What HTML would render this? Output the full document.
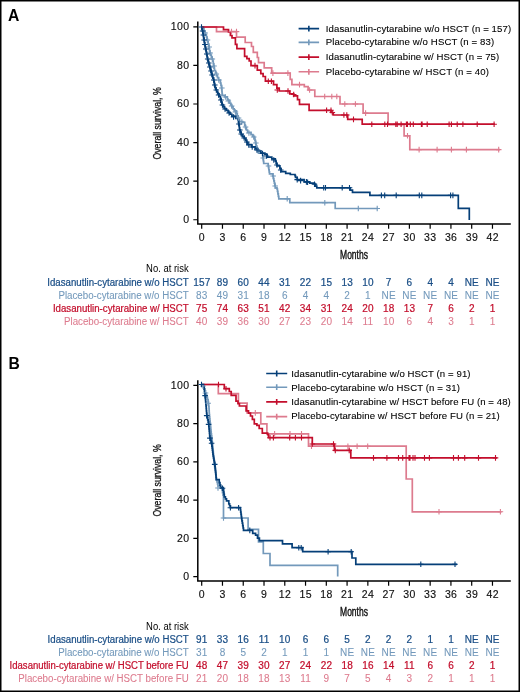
<!DOCTYPE html>
<html><head><meta charset="utf-8"><style>
html,body{margin:0;padding:0;background:#fff;}
.wrap{position:relative;width:520px;height:692px;overflow:hidden;background:#fff;}
svg{position:absolute;left:0;top:0;will-change:transform;}
text{font-family:"Liberation Sans",sans-serif;}
.t{font-size:10.5px;fill:#111;letter-spacing:0.4px;stroke:#111;stroke-width:0.15px;}
.n{letter-spacing:0.2px;}
.lab{font-size:12px;fill:#111;stroke:#111;stroke-width:0.4px;}
.lab2{font-size:10.4px;fill:#111;stroke:#111;stroke-width:0.3px;}
.pl{font-size:15.7px;font-weight:bold;fill:#000;}
.lg{font-size:9.6px;fill:#000;stroke:#000;stroke-width:0.1px;}
.rt{font-size:10px;stroke-width:0.08px;}
.rb{font-size:10px;stroke-width:0.22px;}
</style></head><body><div class="wrap">
<svg width="520" height="692" viewBox="0 0 520 692">
<rect x="0.75" y="0.75" width="518.5" height="690.5" fill="none" stroke="#000" stroke-width="1.5"/>
<path d="M197.8 21.5V224.7M197.10000000000002 224.0H510.8" stroke="#000" stroke-width="1.5" fill="none"/><path d="M193.3 219.75H197.8M193.3 181.17H197.8M193.3 142.59H197.8M193.3 104.01H197.8M193.3 65.43H197.8M193.3 26.85H197.8M201.7 224.0V228.8M222.47 224.0V228.8M243.24 224.0V228.8M264.01 224.0V228.8M284.78 224.0V228.8M305.54 224.0V228.8M326.31 224.0V228.8M347.08 224.0V228.8M367.85 224.0V228.8M388.62 224.0V228.8M409.39 224.0V228.8M430.16 224.0V228.8M450.93 224.0V228.8M471.7 224.0V228.8M492.47 224.0V228.8" stroke="#000" stroke-width="1.2" fill="none"/><text x="189.4" y="223.15" text-anchor="end" class="t">0</text><text x="189.4" y="184.57" text-anchor="end" class="t">20</text><text x="189.4" y="145.99" text-anchor="end" class="t">40</text><text x="189.4" y="107.41" text-anchor="end" class="t">60</text><text x="189.4" y="68.83" text-anchor="end" class="t">80</text><text x="189.4" y="30.25" text-anchor="end" class="t">100</text><text x="201.9" y="240.6" text-anchor="middle" class="t">0</text><text x="222.67" y="240.6" text-anchor="middle" class="t">3</text><text x="243.44" y="240.6" text-anchor="middle" class="t">6</text><text x="264.21" y="240.6" text-anchor="middle" class="t">9</text><text x="284.98" y="240.6" text-anchor="middle" class="t">12</text><text x="305.74" y="240.6" text-anchor="middle" class="t">15</text><text x="326.51" y="240.6" text-anchor="middle" class="t">18</text><text x="347.28" y="240.6" text-anchor="middle" class="t">21</text><text x="368.05" y="240.6" text-anchor="middle" class="t">24</text><text x="388.82" y="240.6" text-anchor="middle" class="t">27</text><text x="409.59" y="240.6" text-anchor="middle" class="t">30</text><text x="430.36" y="240.6" text-anchor="middle" class="t">33</text><text x="451.13" y="240.6" text-anchor="middle" class="t">36</text><text x="471.9" y="240.6" text-anchor="middle" class="t">39</text><text x="492.67" y="240.6" text-anchor="middle" class="t">42</text><text x="0" y="0" transform="translate(354,258.6) scale(0.71,1)" text-anchor="middle" class="lab">Months</text><text x="0" y="0" transform="translate(160.79999999999998,123.4) rotate(-90) scale(0.84,1)" text-anchor="middle" class="lab2">Overall survival, %</text><path d="M197.8 380.3V581.6M197.10000000000002 580.9H510.8" stroke="#000" stroke-width="1.5" fill="none"/><path d="M193.3 576.6H197.8M193.3 538.34H197.8M193.3 500.08H197.8M193.3 461.82H197.8M193.3 423.56H197.8M193.3 385.3H197.8M201.7 580.9V585.7M222.47 580.9V585.7M243.24 580.9V585.7M264.01 580.9V585.7M284.78 580.9V585.7M305.54 580.9V585.7M326.31 580.9V585.7M347.08 580.9V585.7M367.85 580.9V585.7M388.62 580.9V585.7M409.39 580.9V585.7M430.16 580.9V585.7M450.93 580.9V585.7M471.7 580.9V585.7M492.47 580.9V585.7" stroke="#000" stroke-width="1.2" fill="none"/><text x="189.4" y="580" text-anchor="end" class="t">0</text><text x="189.4" y="541.74" text-anchor="end" class="t">20</text><text x="189.4" y="503.48" text-anchor="end" class="t">40</text><text x="189.4" y="465.22" text-anchor="end" class="t">60</text><text x="189.4" y="426.96" text-anchor="end" class="t">80</text><text x="189.4" y="388.7" text-anchor="end" class="t">100</text><text x="201.9" y="597.6" text-anchor="middle" class="t">0</text><text x="222.67" y="597.6" text-anchor="middle" class="t">3</text><text x="243.44" y="597.6" text-anchor="middle" class="t">6</text><text x="264.21" y="597.6" text-anchor="middle" class="t">9</text><text x="284.98" y="597.6" text-anchor="middle" class="t">12</text><text x="305.74" y="597.6" text-anchor="middle" class="t">15</text><text x="326.51" y="597.6" text-anchor="middle" class="t">18</text><text x="347.28" y="597.6" text-anchor="middle" class="t">21</text><text x="368.05" y="597.6" text-anchor="middle" class="t">24</text><text x="388.82" y="597.6" text-anchor="middle" class="t">27</text><text x="409.59" y="597.6" text-anchor="middle" class="t">30</text><text x="430.36" y="597.6" text-anchor="middle" class="t">33</text><text x="451.13" y="597.6" text-anchor="middle" class="t">36</text><text x="471.9" y="597.6" text-anchor="middle" class="t">39</text><text x="492.67" y="597.6" text-anchor="middle" class="t">42</text><text x="0" y="0" transform="translate(354,616.2) scale(0.71,1)" text-anchor="middle" class="lab">Months</text><text x="0" y="0" transform="translate(161.2,480.4) rotate(-90) scale(0.84,1)" text-anchor="middle" class="lab2">Overall survival, %</text><text x="8" y="21" class="pl">A</text><text x="8.6" y="368.6" class="pl">B</text><path d="M298.6 28.6H319.1M308.85 25.7V31.5" stroke="#053f78" stroke-width="1.6" fill="none"/><text x="325.8" y="32.0" class="lg" textLength="185.3" lengthAdjust="spacing">Idasanutlin-cytarabine w/o HSCT (n = 157)</text><path d="M298.6 42.4H319.1M308.85 39.5V45.3" stroke="#7399bb" stroke-width="1.6" fill="none"/><text x="325.8" y="45.4" class="lg" textLength="168.4" lengthAdjust="spacing">Placebo-cytarabine w/o HSCT (n = 83)</text><path d="M298.6 57.1H319.1M308.85 54.2V60" stroke="#c30e2c" stroke-width="1.6" fill="none"/><text x="325.8" y="59.9" class="lg" textLength="173.4" lengthAdjust="spacing">Idasanutlin-cytarabine w/ HSCT (n = 75)</text><path d="M298.6 71.8H319.1M308.85 68.9V74.7" stroke="#dd7b8e" stroke-width="1.6" fill="none"/><text x="325.8" y="74.7" class="lg" textLength="163.1" lengthAdjust="spacing">Placebo-cytarabine w/ HSCT (n = 40)</text><path d="M266.2 373.5H287.2M276.7 370.6V376.4" stroke="#053f78" stroke-width="1.6" fill="none"/><text x="291.3" y="376.8" class="lg" textLength="179.2" lengthAdjust="spacing">Idasanutlin-cytarabine w/o HSCT (n = 91)</text><path d="M266.2 387.2H287.2M276.7 384.3V390.1" stroke="#7399bb" stroke-width="1.6" fill="none"/><text x="291.3" y="390.5" class="lg" textLength="168.7" lengthAdjust="spacing">Placebo-cytarabine w/o HSCT (n = 31)</text><path d="M266.2 401.9H287.2M276.7 399V404.8" stroke="#c30e2c" stroke-width="1.6" fill="none"/><text x="291.3" y="404.9" class="lg" textLength="219.5" lengthAdjust="spacing">Idasanutlin-cytarabine w/ HSCT before FU (n = 48)</text><path d="M266.2 416.6H287.2M276.7 413.7V419.5" stroke="#dd7b8e" stroke-width="1.6" fill="none"/><text x="291.3" y="419.0" class="lg" textLength="208.4" lengthAdjust="spacing">Placebo-cytarabine w/ HSCT before FU (n = 21)</text><text x="188.7" y="272.3" text-anchor="end" class="rt" fill="#000" style="font-size:10px" textLength="42.6" lengthAdjust="spacingAndGlyphs">No. at risk</text><text x="47.3" y="285.5" class="rb" fill="#1a4e86" stroke="#1a4e86" textLength="141.4" lengthAdjust="spacingAndGlyphs">Idasanutlin-cytarabine w/o HSCT</text><text x="201.8" y="285.5" text-anchor="middle" class="rb n" fill="#1a4e86" stroke="#1a4e86">157</text><text x="222.57" y="285.5" text-anchor="middle" class="rb n" fill="#1a4e86" stroke="#1a4e86">89</text><text x="243.34" y="285.5" text-anchor="middle" class="rb n" fill="#1a4e86" stroke="#1a4e86">60</text><text x="264.11" y="285.5" text-anchor="middle" class="rb n" fill="#1a4e86" stroke="#1a4e86">44</text><text x="284.88" y="285.5" text-anchor="middle" class="rb n" fill="#1a4e86" stroke="#1a4e86">31</text><text x="305.64" y="285.5" text-anchor="middle" class="rb n" fill="#1a4e86" stroke="#1a4e86">22</text><text x="326.41" y="285.5" text-anchor="middle" class="rb n" fill="#1a4e86" stroke="#1a4e86">15</text><text x="347.18" y="285.5" text-anchor="middle" class="rb n" fill="#1a4e86" stroke="#1a4e86">13</text><text x="367.95" y="285.5" text-anchor="middle" class="rb n" fill="#1a4e86" stroke="#1a4e86">10</text><text x="388.72" y="285.5" text-anchor="middle" class="rb n" fill="#1a4e86" stroke="#1a4e86">7</text><text x="409.49" y="285.5" text-anchor="middle" class="rb n" fill="#1a4e86" stroke="#1a4e86">6</text><text x="430.26" y="285.5" text-anchor="middle" class="rb n" fill="#1a4e86" stroke="#1a4e86">4</text><text x="451.03" y="285.5" text-anchor="middle" class="rb n" fill="#1a4e86" stroke="#1a4e86">4</text><text x="471.8" y="285.5" text-anchor="middle" class="rb n" fill="#1a4e86" stroke="#1a4e86">NE</text><text x="492.57" y="285.5" text-anchor="middle" class="rb n" fill="#1a4e86" stroke="#1a4e86">NE</text><text x="58.4" y="298.7" class="rt" fill="#7399bb" stroke="#7399bb" textLength="130.3" lengthAdjust="spacingAndGlyphs">Placebo-cytarabine w/o HSCT</text><text x="201.8" y="298.7" text-anchor="middle" class="rt n" fill="#7399bb" stroke="#7399bb">83</text><text x="222.57" y="298.7" text-anchor="middle" class="rt n" fill="#7399bb" stroke="#7399bb">49</text><text x="243.34" y="298.7" text-anchor="middle" class="rt n" fill="#7399bb" stroke="#7399bb">31</text><text x="264.11" y="298.7" text-anchor="middle" class="rt n" fill="#7399bb" stroke="#7399bb">18</text><text x="284.88" y="298.7" text-anchor="middle" class="rt n" fill="#7399bb" stroke="#7399bb">6</text><text x="305.64" y="298.7" text-anchor="middle" class="rt n" fill="#7399bb" stroke="#7399bb">4</text><text x="326.41" y="298.7" text-anchor="middle" class="rt n" fill="#7399bb" stroke="#7399bb">4</text><text x="347.18" y="298.7" text-anchor="middle" class="rt n" fill="#7399bb" stroke="#7399bb">2</text><text x="367.95" y="298.7" text-anchor="middle" class="rt n" fill="#7399bb" stroke="#7399bb">1</text><text x="388.72" y="298.7" text-anchor="middle" class="rt n" fill="#7399bb" stroke="#7399bb">NE</text><text x="409.49" y="298.7" text-anchor="middle" class="rt n" fill="#7399bb" stroke="#7399bb">NE</text><text x="430.26" y="298.7" text-anchor="middle" class="rt n" fill="#7399bb" stroke="#7399bb">NE</text><text x="451.03" y="298.7" text-anchor="middle" class="rt n" fill="#7399bb" stroke="#7399bb">NE</text><text x="471.8" y="298.7" text-anchor="middle" class="rt n" fill="#7399bb" stroke="#7399bb">NE</text><text x="492.57" y="298.7" text-anchor="middle" class="rt n" fill="#7399bb" stroke="#7399bb">NE</text><text x="52.9" y="311.9" class="rb" fill="#c30e2c" stroke="#c30e2c" textLength="135.8" lengthAdjust="spacingAndGlyphs">Idasanutlin-cytarabine w/ HSCT</text><text x="201.8" y="311.9" text-anchor="middle" class="rb n" fill="#c30e2c" stroke="#c30e2c">75</text><text x="222.57" y="311.9" text-anchor="middle" class="rb n" fill="#c30e2c" stroke="#c30e2c">74</text><text x="243.34" y="311.9" text-anchor="middle" class="rb n" fill="#c30e2c" stroke="#c30e2c">63</text><text x="264.11" y="311.9" text-anchor="middle" class="rb n" fill="#c30e2c" stroke="#c30e2c">51</text><text x="284.88" y="311.9" text-anchor="middle" class="rb n" fill="#c30e2c" stroke="#c30e2c">42</text><text x="305.64" y="311.9" text-anchor="middle" class="rb n" fill="#c30e2c" stroke="#c30e2c">34</text><text x="326.41" y="311.9" text-anchor="middle" class="rb n" fill="#c30e2c" stroke="#c30e2c">31</text><text x="347.18" y="311.9" text-anchor="middle" class="rb n" fill="#c30e2c" stroke="#c30e2c">24</text><text x="367.95" y="311.9" text-anchor="middle" class="rb n" fill="#c30e2c" stroke="#c30e2c">20</text><text x="388.72" y="311.9" text-anchor="middle" class="rb n" fill="#c30e2c" stroke="#c30e2c">18</text><text x="409.49" y="311.9" text-anchor="middle" class="rb n" fill="#c30e2c" stroke="#c30e2c">13</text><text x="430.26" y="311.9" text-anchor="middle" class="rb n" fill="#c30e2c" stroke="#c30e2c">7</text><text x="451.03" y="311.9" text-anchor="middle" class="rb n" fill="#c30e2c" stroke="#c30e2c">6</text><text x="471.8" y="311.9" text-anchor="middle" class="rb n" fill="#c30e2c" stroke="#c30e2c">2</text><text x="492.57" y="311.9" text-anchor="middle" class="rb n" fill="#c30e2c" stroke="#c30e2c">1</text><text x="64.0" y="325.0" class="rt" fill="#dd7b8e" stroke="#dd7b8e" textLength="124.7" lengthAdjust="spacingAndGlyphs">Placebo-cytarabine w/ HSCT</text><text x="201.8" y="325.0" text-anchor="middle" class="rt n" fill="#dd7b8e" stroke="#dd7b8e">40</text><text x="222.57" y="325.0" text-anchor="middle" class="rt n" fill="#dd7b8e" stroke="#dd7b8e">39</text><text x="243.34" y="325.0" text-anchor="middle" class="rt n" fill="#dd7b8e" stroke="#dd7b8e">36</text><text x="264.11" y="325.0" text-anchor="middle" class="rt n" fill="#dd7b8e" stroke="#dd7b8e">30</text><text x="284.88" y="325.0" text-anchor="middle" class="rt n" fill="#dd7b8e" stroke="#dd7b8e">27</text><text x="305.64" y="325.0" text-anchor="middle" class="rt n" fill="#dd7b8e" stroke="#dd7b8e">23</text><text x="326.41" y="325.0" text-anchor="middle" class="rt n" fill="#dd7b8e" stroke="#dd7b8e">20</text><text x="347.18" y="325.0" text-anchor="middle" class="rt n" fill="#dd7b8e" stroke="#dd7b8e">14</text><text x="367.95" y="325.0" text-anchor="middle" class="rt n" fill="#dd7b8e" stroke="#dd7b8e">11</text><text x="388.72" y="325.0" text-anchor="middle" class="rt n" fill="#dd7b8e" stroke="#dd7b8e">10</text><text x="409.49" y="325.0" text-anchor="middle" class="rt n" fill="#dd7b8e" stroke="#dd7b8e">6</text><text x="430.26" y="325.0" text-anchor="middle" class="rt n" fill="#dd7b8e" stroke="#dd7b8e">4</text><text x="451.03" y="325.0" text-anchor="middle" class="rt n" fill="#dd7b8e" stroke="#dd7b8e">3</text><text x="471.8" y="325.0" text-anchor="middle" class="rt n" fill="#dd7b8e" stroke="#dd7b8e">1</text><text x="492.57" y="325.0" text-anchor="middle" class="rt n" fill="#dd7b8e" stroke="#dd7b8e">1</text><text x="188.7" y="629.6" text-anchor="end" class="rt" fill="#000" style="font-size:10px" textLength="42.6" lengthAdjust="spacingAndGlyphs">No. at risk</text><text x="47.6" y="642.8" class="rb" fill="#1a4e86" stroke="#1a4e86" textLength="141.1" lengthAdjust="spacingAndGlyphs">Idasanutlin-cytarabine w/o HSCT</text><text x="201.8" y="642.8" text-anchor="middle" class="rb n" fill="#1a4e86" stroke="#1a4e86">91</text><text x="222.57" y="642.8" text-anchor="middle" class="rb n" fill="#1a4e86" stroke="#1a4e86">33</text><text x="243.34" y="642.8" text-anchor="middle" class="rb n" fill="#1a4e86" stroke="#1a4e86">16</text><text x="264.11" y="642.8" text-anchor="middle" class="rb n" fill="#1a4e86" stroke="#1a4e86">11</text><text x="284.88" y="642.8" text-anchor="middle" class="rb n" fill="#1a4e86" stroke="#1a4e86">10</text><text x="305.64" y="642.8" text-anchor="middle" class="rb n" fill="#1a4e86" stroke="#1a4e86">6</text><text x="326.41" y="642.8" text-anchor="middle" class="rb n" fill="#1a4e86" stroke="#1a4e86">6</text><text x="347.18" y="642.8" text-anchor="middle" class="rb n" fill="#1a4e86" stroke="#1a4e86">5</text><text x="367.95" y="642.8" text-anchor="middle" class="rb n" fill="#1a4e86" stroke="#1a4e86">2</text><text x="388.72" y="642.8" text-anchor="middle" class="rb n" fill="#1a4e86" stroke="#1a4e86">2</text><text x="409.49" y="642.8" text-anchor="middle" class="rb n" fill="#1a4e86" stroke="#1a4e86">2</text><text x="430.26" y="642.8" text-anchor="middle" class="rb n" fill="#1a4e86" stroke="#1a4e86">1</text><text x="451.03" y="642.8" text-anchor="middle" class="rb n" fill="#1a4e86" stroke="#1a4e86">1</text><text x="471.8" y="642.8" text-anchor="middle" class="rb n" fill="#1a4e86" stroke="#1a4e86">NE</text><text x="492.57" y="642.8" text-anchor="middle" class="rb n" fill="#1a4e86" stroke="#1a4e86">NE</text><text x="58.3" y="655.8" class="rt" fill="#7399bb" stroke="#7399bb" textLength="130.4" lengthAdjust="spacingAndGlyphs">Placebo-cytarabine w/o HSCT</text><text x="201.8" y="655.8" text-anchor="middle" class="rt n" fill="#7399bb" stroke="#7399bb">31</text><text x="222.57" y="655.8" text-anchor="middle" class="rt n" fill="#7399bb" stroke="#7399bb">8</text><text x="243.34" y="655.8" text-anchor="middle" class="rt n" fill="#7399bb" stroke="#7399bb">5</text><text x="264.11" y="655.8" text-anchor="middle" class="rt n" fill="#7399bb" stroke="#7399bb">2</text><text x="284.88" y="655.8" text-anchor="middle" class="rt n" fill="#7399bb" stroke="#7399bb">1</text><text x="305.64" y="655.8" text-anchor="middle" class="rt n" fill="#7399bb" stroke="#7399bb">1</text><text x="326.41" y="655.8" text-anchor="middle" class="rt n" fill="#7399bb" stroke="#7399bb">1</text><text x="347.18" y="655.8" text-anchor="middle" class="rt n" fill="#7399bb" stroke="#7399bb">NE</text><text x="367.95" y="655.8" text-anchor="middle" class="rt n" fill="#7399bb" stroke="#7399bb">NE</text><text x="388.72" y="655.8" text-anchor="middle" class="rt n" fill="#7399bb" stroke="#7399bb">NE</text><text x="409.49" y="655.8" text-anchor="middle" class="rt n" fill="#7399bb" stroke="#7399bb">NE</text><text x="430.26" y="655.8" text-anchor="middle" class="rt n" fill="#7399bb" stroke="#7399bb">NE</text><text x="451.03" y="655.8" text-anchor="middle" class="rt n" fill="#7399bb" stroke="#7399bb">NE</text><text x="471.8" y="655.8" text-anchor="middle" class="rt n" fill="#7399bb" stroke="#7399bb">NE</text><text x="492.57" y="655.8" text-anchor="middle" class="rt n" fill="#7399bb" stroke="#7399bb">NE</text><text x="9.6" y="669.0" class="rb" fill="#c30e2c" stroke="#c30e2c" textLength="179.1" lengthAdjust="spacingAndGlyphs">Idasanutlin-cytarabine w/ HSCT before FU</text><text x="201.8" y="669.0" text-anchor="middle" class="rb n" fill="#c30e2c" stroke="#c30e2c">48</text><text x="222.57" y="669.0" text-anchor="middle" class="rb n" fill="#c30e2c" stroke="#c30e2c">47</text><text x="243.34" y="669.0" text-anchor="middle" class="rb n" fill="#c30e2c" stroke="#c30e2c">39</text><text x="264.11" y="669.0" text-anchor="middle" class="rb n" fill="#c30e2c" stroke="#c30e2c">30</text><text x="284.88" y="669.0" text-anchor="middle" class="rb n" fill="#c30e2c" stroke="#c30e2c">27</text><text x="305.64" y="669.0" text-anchor="middle" class="rb n" fill="#c30e2c" stroke="#c30e2c">24</text><text x="326.41" y="669.0" text-anchor="middle" class="rb n" fill="#c30e2c" stroke="#c30e2c">22</text><text x="347.18" y="669.0" text-anchor="middle" class="rb n" fill="#c30e2c" stroke="#c30e2c">18</text><text x="367.95" y="669.0" text-anchor="middle" class="rb n" fill="#c30e2c" stroke="#c30e2c">16</text><text x="388.72" y="669.0" text-anchor="middle" class="rb n" fill="#c30e2c" stroke="#c30e2c">14</text><text x="409.49" y="669.0" text-anchor="middle" class="rb n" fill="#c30e2c" stroke="#c30e2c">11</text><text x="430.26" y="669.0" text-anchor="middle" class="rb n" fill="#c30e2c" stroke="#c30e2c">6</text><text x="451.03" y="669.0" text-anchor="middle" class="rb n" fill="#c30e2c" stroke="#c30e2c">6</text><text x="471.8" y="669.0" text-anchor="middle" class="rb n" fill="#c30e2c" stroke="#c30e2c">2</text><text x="492.57" y="669.0" text-anchor="middle" class="rb n" fill="#c30e2c" stroke="#c30e2c">1</text><text x="18.3" y="682.1" class="rt" fill="#dd7b8e" stroke="#dd7b8e" textLength="170.4" lengthAdjust="spacingAndGlyphs">Placebo-cytarabine w/ HSCT before FU</text><text x="201.8" y="682.1" text-anchor="middle" class="rt n" fill="#dd7b8e" stroke="#dd7b8e">21</text><text x="222.57" y="682.1" text-anchor="middle" class="rt n" fill="#dd7b8e" stroke="#dd7b8e">20</text><text x="243.34" y="682.1" text-anchor="middle" class="rt n" fill="#dd7b8e" stroke="#dd7b8e">18</text><text x="264.11" y="682.1" text-anchor="middle" class="rt n" fill="#dd7b8e" stroke="#dd7b8e">18</text><text x="284.88" y="682.1" text-anchor="middle" class="rt n" fill="#dd7b8e" stroke="#dd7b8e">13</text><text x="305.64" y="682.1" text-anchor="middle" class="rt n" fill="#dd7b8e" stroke="#dd7b8e">11</text><text x="326.41" y="682.1" text-anchor="middle" class="rt n" fill="#dd7b8e" stroke="#dd7b8e">9</text><text x="347.18" y="682.1" text-anchor="middle" class="rt n" fill="#dd7b8e" stroke="#dd7b8e">7</text><text x="367.95" y="682.1" text-anchor="middle" class="rt n" fill="#dd7b8e" stroke="#dd7b8e">5</text><text x="388.72" y="682.1" text-anchor="middle" class="rt n" fill="#dd7b8e" stroke="#dd7b8e">4</text><text x="409.49" y="682.1" text-anchor="middle" class="rt n" fill="#dd7b8e" stroke="#dd7b8e">3</text><text x="430.26" y="682.1" text-anchor="middle" class="rt n" fill="#dd7b8e" stroke="#dd7b8e">2</text><text x="451.03" y="682.1" text-anchor="middle" class="rt n" fill="#dd7b8e" stroke="#dd7b8e">1</text><text x="471.8" y="682.1" text-anchor="middle" class="rt n" fill="#dd7b8e" stroke="#dd7b8e">1</text><text x="492.57" y="682.1" text-anchor="middle" class="rt n" fill="#dd7b8e" stroke="#dd7b8e">1</text><path d="M201.5 27H202.5V28.5H204V31H204.8V32.97H205.6V34.93H206.4V36.9H206.97V39.23H207.55V41.55H208.12V43.88H208.7V46.2H209.1V48.5H209.5V50.8H209.9V53.1H210.62V55.12H211.35V57.15H212.08V59.18H212.8V61.2H213.23V63.53H213.65V65.85H214.07V68.17H214.5V70.5H215.5V72.88H216.5V75.25H217.5V77.62H218.5V80H220.4V83.1H220.95V85.4H221.5V87.7H221.7V89.62H221.9V91.55H222.1V93.48H222.3V95.4H225V96.9H227.3V100H229.6V103.1H230.75V105H231.9V106.9H233.05V108.85H234.2V110.8H236.5V113.8H237.3V115.75H238.1V117.7H238.85V119.6H239.6V121.5H242.7V122.3H244.7V125.6H245.55V127.8H246.4V130H247.6V132.3H251V134.6H252.75V136.35H254.5V138.1H254.93V140.12H255.35V142.15H255.77V144.17H256.2V146.2H256.97V148.5H257.73V150.8H258.5V153.1H262.6V155.4H262.88V157.43H263.15V159.45H263.43V161.47H263.7V163.5H267.8V163.5H268.14V165.58H268.48V167.66H268.82V169.74H269.16V171.82H269.5V173.9H272.4V173.9H272.88V176.22H273.37V178.53H273.85V180.85H274.33V183.17H274.82V185.48H275.3V187.8H277V189H277.45V191.45H277.9V193.9H278.35V196.35H278.8V198.8H289.8V202.7H335.2V208.5H377.9" stroke="#7399bb" stroke-width="1.7" fill="none" stroke-linejoin="miter" stroke-linecap="butt"/><path d="M201.5 27H201.9V29H202.3V31H202.8V33.5H203.3V36H203.65V38.25H204V40.5H204.35V42.75H204.7V45H205.2V47.5H205.7V50H206.2V52.5H206.67V55H207.13V57.5H207.6V60H208.18V62H208.75V64H209.32V66H209.9V68H210.47V70.05H211.05V72.1H211.62V74.15H212.2V76.2H212.85V78.1H213.5V80H213.88V81.92H214.25V83.85H214.62V85.78H215V87.7H215.9V89.73H216.8V91.77H217.7V93.8H219.05V96.5H220.4V99.2H221.15V101.9H221.9V104.6H223.05V106.55H224.2V108.5H226.15V110.4H228.1V112.3H230V114.25H231.9V116.2H235.8V118.5H238.1V120H238.45V122.5H238.8V125H239.3V127.7H239.5V130H240.35V132.3H241.2V134.6H242.73V136.53H244.27V138.47H245.8V140.4H246.7V142.45H247.6V144.5H251.6V146.8H255.1V149.1H258V150.8H260.9V153.1H264.9V154.3H267.2V157.2H271.8V158.9H275.3V161.2H276.15V163.5H277V165.8H279.9V168.7H281.1V171.6H285.7V173.4H290.3V174.5H295V175.7H295.5V177.4H297.2V179.6H304.1V181.9H309.8V183.1H314.5V184.2H315.65V186.05H316.8V187.9H350.2V190.2H352.5V192.4H369.9V195.4H458.3V208.3H469.3V220" stroke="#053f78" stroke-width="1.7" fill="none" stroke-linejoin="miter" stroke-linecap="butt"/><path d="M201.5 27H216.5V31.6H236.5V37.1H245.2V42.5H251.5V46.5H253.3V52.3H257.3V57.5H258.5V62.7H264.2V67.9H271.7V73.1H290.2V79.4H291.9V84.6H304.3V86.6H308.1V90H314.8V96.5H340V104H363.1V113.1H388.1V124.6H404.1V135.8H409.8V149.6H499.9" stroke="#dd7b8e" stroke-width="1.7" fill="none" stroke-linejoin="miter" stroke-linecap="butt"/><path d="M201.5 27H223.5V29.7H228.5V32H230.4V35.5H232V37.8H235.4V44.3H236.9V48.6H244.6V56.3H246.9V58.7H249.2V61H251V65.6H257.3V70.2H260.8V73.7H263.1V76.5H265.4V81.2H273.5V84.6H276.9V88.1H279.2V91H289.8V93.8H293.7V95.8H297.5V99.6H299.5V104.4H309.1V110.3H331V112.5H333.3V115H347.7V119.4H362.2V124.2H494.8" stroke="#c30e2c" stroke-width="1.7" fill="none" stroke-linejoin="miter" stroke-linecap="butt"/><path d="M287.2 196V201.6M284.4 198.8H290M324.8 199.9V205.5M322 202.7H327.6M358.3 205.7V211.3M355.5 208.5H361.1M377.2 205.7V211.3M374.4 208.5H380M205.11 30.2V35.8M202.31 33H207.91M207.47 37.2V42.8M204.67 40H210.27M209.14 44.2V49.8M206.34 47H211.94M210.18 50.2V55.8M207.38 53H212.98M212.31 56.2V61.8M209.51 59H215.11M213.98 63.2V68.8M211.18 66H216.78M216.27 71.2V76.8M213.47 74H219.07M218.8 77.2V82.8M216 80H221.6M221.83 85.2V90.8M219.03 88H224.63M225.37 94.2V99.8M222.57 97H228.17M228.34 98.2V103.8M225.54 101H231.14M231.66 103.2V108.8M228.86 106H234.46M235.42 109.2V114.8M232.62 112H238.22M238.52 115.2V120.8M235.72 118H241.32M241.84 119.2V124.8M239.04 122H244.64M245.54 124.2V129.8M242.74 127H248.34M248.93 130.2V135.8M246.13 133H251.73M253.7 134.2V139.8M250.9 137H256.5M255.83 140.2V145.8M253.03 143H258.63M257.77 147.2V152.8M254.97 150H260.57M263.25 155.2V160.8M260.45 158H266.05M268.51 163.2V168.8M265.71 166H271.31M273.14 173.2V178.8M270.34 176H275.94M275.22 183.2V188.8M272.42 186H278.02" stroke="#7399bb" stroke-width="1.1" fill="none"/><path d="M201.5 24.2V29.8M198.7 27H204.3M202.6 28.2V33.8M199.8 31H205.4M203.4 32.2V37.8M200.6 35H206.2M204.22 37.2V42.8M201.42 40H207.02M204.92 41.7V47.3M202.12 44.5H207.72M205.8 46.2V51.8M203 49H208.6M206.78 51.2V56.8M203.98 54H209.58M207.71 56.2V61.8M204.91 59H210.51M208.76 60.2V65.8M205.96 63H211.56M209.91 64.2V69.8M207.11 67H212.71M211.04 68.2V73.8M208.24 71H213.84M212.16 72.2V77.8M209.36 75H214.96M213.8 77.2V82.8M211 80H216.6M214.77 82.2V87.8M211.97 85H217.57M216.32 87.2V92.8M213.52 90H219.12M218.6 92.2V97.8M215.8 95H221.4M220.92 97.2V102.8M218.12 100H223.72M222.44 102.2V107.8M219.64 105H225.24M225.01 106.2V111.8M222.21 109H227.81M229.08 110.2V115.8M226.28 113H231.88M233.56 114.2V119.8M230.76 117H236.36M238.96 121.2V126.8M236.16 124H241.76M239.8 127.2V132.8M237 130H242.6M241.28 131.2V136.8M238.48 134H244.08M244.2 135.2V140.8M241.4 138H247M246.8 139.2V144.8M244 142H249.6M248.77 142.2V147.8M245.97 145H251.57M252.2 144.2V149.8M249.4 147H255M256.94 147.2V152.8M254.14 150H259.74M262.53 150.7V156.3M259.73 153.5H265.33M266.55 153.2V158.8M263.75 156H269.35M273.77 157.2V162.8M270.97 160H276.57M277 162.2V167.8M274.2 165H279.8M280.74 167.2V172.8M277.94 170H283.54M297.2 176.8V182.4M294.4 179.6H300M300.6 177.8V183.4M297.8 180.6H303.4M306.4 179.1V184.7M303.6 181.9H309.2M307.6 179.5V185.1M304.8 182.3H310.4M314.5 181.4V187M311.7 184.2H317.3M323.7 184.9V190.5M320.9 187.7H326.5M325.5 184.9V190.5M322.7 187.7H328.3M342.2 184.9V190.5M339.4 187.7H345M349.5 184.9V190.5M346.7 187.7H352.3M381.4 192.6V198.2M378.6 195.4H384.2M384.7 192.6V198.2M381.9 195.4H387.5M396.2 192.6V198.2M393.4 195.4H399M419.3 192.6V198.2M416.5 195.4H422.1M421.8 192.6V198.2M419 195.4H424.6M450.6 192.6V198.2M447.8 195.4H453.4M452.9 192.6V198.2M450.1 195.4H455.7" stroke="#053f78" stroke-width="1.1" fill="none"/><path d="M299.5 81.8V87.4M296.7 84.6H302.3M309.6 87.2V92.8M306.8 90H312.4M231.5 28.8V34.4M228.7 31.6H234.3M236.5 28.8V34.4M233.7 31.6H239.3M272.9 70.3V75.9M270.1 73.1H275.7M287.9 70.3V75.9M285.1 73.1H290.7M324.7 93.7V99.3M321.9 96.5H327.5M331.8 93.7V99.3M329 96.5H334.6M336.8 93.7V99.3M334 96.5H339.6M344.8 101.2V106.8M342 104H347.6M355.4 101.2V106.8M352.6 104H358.2M365.6 110.3V115.9M362.8 113.1H368.4M407.5 133V138.6M404.7 135.8H410.3M419.1 146.8V152.4M416.3 149.6H421.9M437.1 146.8V152.4M434.3 149.6H439.9M451.4 146.8V152.4M448.6 149.6H454.2M466.4 146.8V152.4M463.6 149.6H469.2M498.7 146.8V152.4M495.9 149.6H501.5" stroke="#dd7b8e" stroke-width="1.1" fill="none"/><path d="M255 62.8V68.4M252.2 65.6H257.8M268.3 78.4V84M265.5 81.2H271.1M271.4 78.4V84M268.6 81.2H274.2M277.3 87.2V92.8M274.5 90H280.1M288 88.2V93.8M285.2 91H290.8M293.7 91.7V97.3M290.9 94.5H296.5M326.6 107.5V113.1M323.8 110.3H329.4M331 107.5V113.1M328.2 110.3H333.8M332.3 109.7V115.3M329.5 112.5H335.1M343.9 112.2V117.8M341.1 115H346.7M346.8 112.2V117.8M344 115H349.6M353.5 116.6V122.2M350.7 119.4H356.3M371.8 121.4V127M369 124.2H374.6M384.8 121.4V127M382 124.2H387.6M387.5 121.4V127M384.7 124.2H390.3M395.8 121.4V127M393 124.2H398.6M397.2 121.4V127M394.4 124.2H400M401.1 121.4V127M398.3 124.2H403.9M406.4 121.4V127M403.6 124.2H409.2M407.5 121.4V127M404.7 124.2H410.3M410.3 121.4V127M407.5 124.2H413.1M413.3 121.4V127M410.5 124.2H416.1M421.4 121.4V127M418.6 124.2H424.2M422.1 121.4V127M419.3 124.2H424.9M427.2 121.4V127M424.4 124.2H430M449.1 121.4V127M446.3 124.2H451.9M451.4 121.4V127M448.6 124.2H454.2M457.2 121.4V127M454.4 124.2H460M462.9 121.4V127M460.1 124.2H465.7M477.2 121.4V127M474.4 124.2H480M494.1 121.4V127M491.3 124.2H496.9" stroke="#c30e2c" stroke-width="1.1" fill="none"/><path d="M201.5 384.5H203.4V386.5H204.1V388.67H204.8V390.83H205.5V393H206.15V395.18H206.8V397.35H207.45V399.52H208.1V401.7H208.4V404H208.7V406.3H209V408.6H209.1V410.63H209.2V412.67H209.3V414.7H209.51V416.82H209.72V418.94H209.93V421.07H210.14V423.19H210.36V425.31H210.57V427.43H210.78V429.56H210.99V431.68H211.2V433.8H211.47V435.87H211.73V437.93H212V440H212.21V442.29H212.43V444.57H212.64V446.86H212.86V449.14H213.07V451.43H213.29V453.71H213.5V456H213.75V458.33H214V460.67H214.25V463H214.5V465.33H214.75V467.67H215V470H215.3V472H215.6V474H215.9V476H216.2V478H216.5V480H217V482H217.5V484H218V486H220V488H222V490H222.5V492.57H223V495.13H223.5V497.7V518H248.1V529.4H258.5V541.9H263.3V553.5H270V565.4H337.7V576.5" stroke="#7399bb" stroke-width="1.7" fill="none" stroke-linejoin="miter" stroke-linecap="butt"/><path d="M201.5 384.5H203.8V386.9H204.12V389.07H204.45V391.25H204.78V393.43H205.1V395.6H205.28V397.68H205.46V399.76H205.64V401.84H205.82V403.92H206V406H206.2V408.4H206.4V410.8H206.6V413.2H206.8V415.6H207.25V417.75H207.7V419.9H208.15V422.05H208.6V424.2H208.82V426.52H209.03V428.83H209.25V431.15H209.47V433.47H209.68V435.78H209.9V438.1H210.47V440.13H211.03V442.17H211.6V444.2H211.87V446.22H212.13V448.23H212.4V450.25H212.67V452.27H212.93V454.28H213.2V456.3H213.57V458.32H213.95V460.35H214.32V462.38H214.7V464.4H214.95V466.42H215.2V468.45H215.45V470.48H215.7V472.5H215.87V474.87H216.03V477.23H216.2V479.6H219.2V482.6H219.95V485.15H220.7V487.7H223.3V489.7H223.63V492.07H223.97V494.43H224.3V496.8H225.4V498.8H226.5V500.8H228.8V503.8H229.6V505.75H230.4V507.7H239.6V507.7H240.4V510H240.7V512.16H241V514.32H241.3V516.48H241.6V518.64H241.9V520.8H242.3V523.2H242.7V525.6H243.1V528H243.5V530.4H249.8V530.4H252.7V533.3H255.6V535.2H257.5V538.1H259.4V540.6H282.5V543.8H292.1V547.7H302.7V551.7H352V558H355.8V564.3H457" stroke="#053f78" stroke-width="1.7" fill="none" stroke-linejoin="miter" stroke-linecap="butt"/><path d="M201.5 384.5H218.3V393.7H238.4V403.1H247.1V412.9H260.8V423.8H266.9V433.8H308.5V446.2H406.2V479H412.3V511.8H501.5" stroke="#dd7b8e" stroke-width="1.7" fill="none" stroke-linejoin="miter" stroke-linecap="butt"/><path d="M201.5 384.5H224.3V388.7H229.3V391.5H231.2V395.4H236V401.2H238V403.6H239.4V406H246.1V410.8H248.5V413.2H250.5V416H252.4V419.4H254.3V423.8H256.9V425.4H259.2V428.5H262.3V433.1H267.7V434.6H268.5V437.7H312.3V444H334.4V450.4H350.8V457.9H497" stroke="#c30e2c" stroke-width="1.7" fill="none" stroke-linejoin="miter" stroke-linecap="butt"/><path d="M205.5 390.2V395.8M202.7 393H208.3M208.1 400.4V406M205.3 403.2H210.9M218 485.2V490.8M215.2 488H220.8M223.5 515.2V520.8M220.7 518H226.3M203 383.2V388.8M200.2 386H205.8" stroke="#7399bb" stroke-width="1.1" fill="none"/><path d="M201.5 381.7V387.3M198.7 384.5H204.3M205.1 392.8V398.4M202.3 395.6H207.9M206.7 412.8V418.4M203.9 415.6H209.5M208.6 421.6V427.2M205.8 424.4H211.4M209.9 435.3V440.9M207.1 438.1H212.7M211.6 440.4V446M208.8 443.2H214.4M214.7 461.6V467.2M211.9 464.4H217.5M222.5 485.4V491M219.7 488.2H225.3M230.4 504.9V510.5M227.6 507.7H233.2M238.6 504.9V510.5M235.8 507.7H241.4M249.8 527.6V533.2M247 530.4H252.6M298.8 544.9V550.5M296 547.7H301.6M301.2 544.9V550.5M298.4 547.7H304M328.1 548.9V554.5M325.3 551.7H330.9M351.2 548.9V554.5M348.4 551.7H354M420.8 561.5V567.1M418 564.3H423.6M455 561.5V567.1M452.2 564.3H457.8" stroke="#053f78" stroke-width="1.1" fill="none"/><path d="M255.3 410.1V415.7M252.5 412.9H258.1M274.6 431V436.6M271.8 433.8H277.4M290 431V436.6M287.2 433.8H292.8M301.5 431V436.6M298.7 433.8H304.3M311.5 443.4V449M308.7 446.2H314.3M347.9 443.4V449M345.1 446.2H350.7M357.1 443.4V449M354.3 446.2H359.9M367.7 443.4V449M364.9 446.2H370.5M439 509V514.6M436.2 511.8H441.8M500.4 509V514.6M497.6 511.8H503.2" stroke="#dd7b8e" stroke-width="1.1" fill="none"/><path d="M218.5 381.7V387.3M215.7 384.5H221.3M226 385.9V391.5M223.2 388.7H228.8M270 434.9V440.5M267.2 437.7H272.8M273.4 434.9V440.5M270.6 437.7H276.2M289.7 434.9V440.5M286.9 437.7H292.5M295.4 434.9V440.5M292.6 437.7H298.2M301.5 434.9V440.5M298.7 437.7H304.3M312.3 441.2V446.8M309.5 444H315.1M333.5 441.2V446.8M330.7 444H336.3M335.3 447.6V453.2M332.5 450.4H338.1M349.2 447.6V453.2M346.4 450.4H352M373.5 455.1V460.7M370.7 457.9H376.3M386.9 455.1V460.7M384.1 457.9H389.7M398.5 455.1V460.7M395.7 457.9H401.3M402.7 455.1V460.7M399.9 457.9H405.5M409 455.1V460.7M406.2 457.9H411.8M410 455.1V460.7M407.2 457.9H412.8M413 455.1V460.7M410.2 457.9H415.8M415 455.1V460.7M412.2 457.9H417.8M424.5 455.1V460.7M421.7 457.9H427.3M429.4 455.1V460.7M426.6 457.9H432.2M453.5 455.1V460.7M450.7 457.9H456.3M458.4 455.1V460.7M455.6 457.9H461.2M464.7 455.1V460.7M461.9 457.9H467.5M478.5 455.1V460.7M475.7 457.9H481.3M495.5 455.1V460.7M492.7 457.9H498.3" stroke="#c30e2c" stroke-width="1.1" fill="none"/>
</svg></div></body></html>
